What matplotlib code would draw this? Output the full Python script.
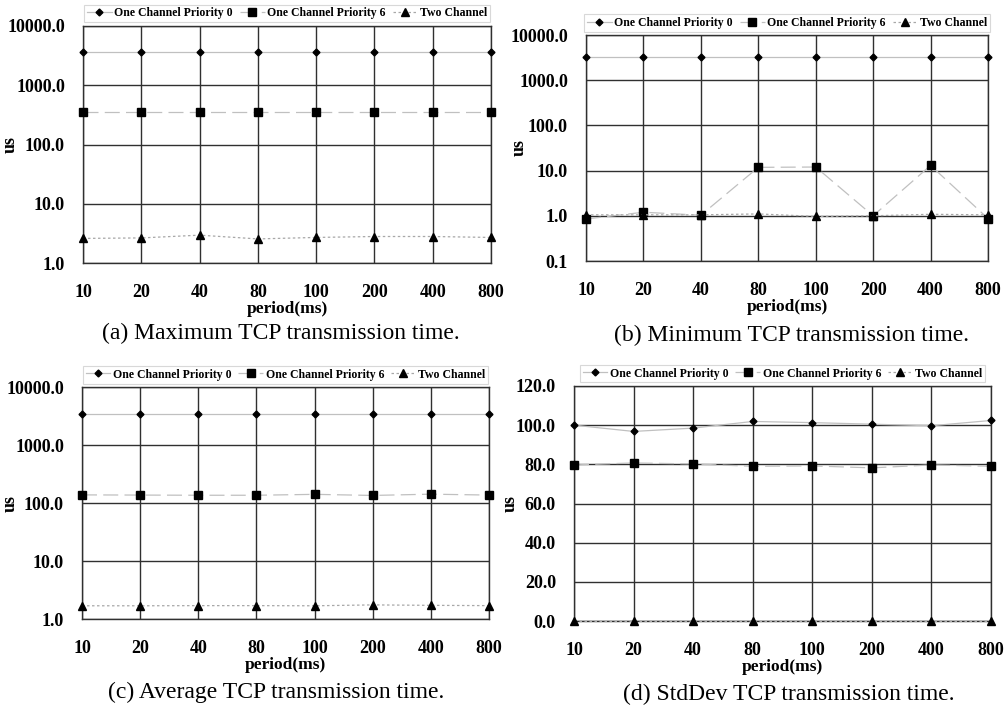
import numpy as np
import matplotlib
matplotlib.use("Agg")
import matplotlib.pyplot as plt
from matplotlib.ticker import FixedLocator, FixedFormatter

periods = ["10", "20", "40", "80", "100", "200", "400", "800"]
series_names = ["One Channel Priority 0", "One Channel Priority 6", "Two Channel"]

max_p0 = [3670, 3670, 3670, 3670, 3670, 3670, 3670, 3670]
max_p6 = [350, 350, 350, 350, 350, 350, 350, 350]
max_two = [2.6, 2.65, 2.95, 2.55, 2.7, 2.8, 2.8, 2.7]

min_p0 = [3250, 3250, 3250, 3250, 3250, 3250, 3250, 3250]
min_p6 = [0.85, 1.2, 1.03, 11.8, 12.0, 1.0, 13.0, 0.87]
min_two = [1.05, 1.05, 1.05, 1.1, 0.97, 1.0, 1.08, 1.05]

avg_p0 = [3490, 3490, 3490, 3490, 3490, 3490, 3490, 3490]
avg_p6 = [138, 137, 136, 136, 141, 135, 142, 137]
avg_two = [1.69, 1.69, 1.70, 1.70, 1.69, 1.75, 1.72, 1.70]

std_p0 = [100.0, 96.8, 98.5, 101.9, 101.3, 100.5, 99.7, 102.4]
std_p6 = [79.7, 80.7, 80.2, 79.0, 79.2, 78.2, 79.7, 79.0]
std_two = [0.2, 0.2, 0.2, 0.2, 0.2, 0.2, 0.2, 0.2]

log_ticks_a = [1, 10, 100, 1000, 10000]
log_ticks_b = [0.1, 1, 10, 100, 1000, 10000]
lin_ticks_d = [0, 20, 40, 60, 80, 100, 120]

captions = ["(a) Maximum TCP transmission time.",
            "(b) Minimum TCP transmission time.",
            "(c) Average TCP transmission time.",
            "(d) StdDev TCP transmission time."]

W, H = 1005, 708
fig = plt.figure(figsize=(W / 100, H / 100), dpi=100)
serif = ["Liberation Serif", "DejaVu Serif"]

def frac(l, r, t, b):
    return [l / W, 1 - b / H, (r - l) / W, (b - t) / H]

axes_px = [(83, 491, 26, 263), (586, 988, 35, 261), (82, 489, 387, 619), (574, 991, 386, 621)]
caption_px = [(281, 333), (791, 335), (276, 692), (789, 694)]
ylabel_x = [-0.157, -0.144, -0.155, -0.132]

panels = [
    (max_p0, max_p6, max_two, "log", log_ticks_a),
    (min_p0, min_p6, min_two, "log", log_ticks_b),
    (avg_p0, avg_p6, avg_two, "log", log_ticks_a),
    (std_p0, std_p6, std_two, "linear", lin_ticks_d),
]

styles = [
    dict(linestyle="-", marker="D", ms=3.5, color="#c0c0c0"),
    dict(linestyle=(0, (12, 5)), marker="s", ms=6, color="#c0c0c0"),
    dict(linestyle=(0, (2, 2)), marker="^", ms=5.5, color="#a8a8a8"),
]

x = np.arange(len(periods))
for i, (p0, p6, two, scale, ticks) in enumerate(panels):
    ax = fig.add_axes(frac(*axes_px[i]))
    handles = []
    for vals, st, name in zip((p0, p6, two), styles, series_names):
        h, = ax.plot(x, vals, linestyle=st["linestyle"], color=st["color"], lw=0.9,
                     marker=st["marker"], ms=st["ms"], mfc="black", mec="black",
                     clip_on=False, zorder=3, label=name)
        handles.append(h)
    ax.set_yscale(scale)
    ax.set_ylim(ticks[0], ticks[-1])
    ax.set_xlim(0, len(periods) - 1)
    ax.yaxis.set_major_locator(FixedLocator(ticks))
    ax.yaxis.set_major_formatter(FixedFormatter(["%.1f" % t for t in ticks]))
    ax.yaxis.set_minor_locator(FixedLocator([]))
    ax.set_xticks(x)
    ax.set_xticklabels(periods)
    ax.tick_params(axis="both", length=0, labelsize=13)
    ax.tick_params(axis="x", pad=15)
    ax.tick_params(axis="y", pad=13)
    for lab in ax.get_xticklabels() + ax.get_yticklabels():
        lab.set_fontfamily(serif)
        lab.set_fontweight("bold")
    ax.grid(True, color="#303030", lw=1.0)
    ax.set_axisbelow(True)
    for s in ax.spines.values():
        s.set_color("#303030")
        s.set_linewidth(1.0)
    ax.set_xlabel("period(ms)", fontfamily=serif, fontweight="bold", fontsize=12.5, labelpad=0)
    ax.set_ylabel("us", fontfamily=serif, fontweight="bold", fontsize=13)
    ax.yaxis.set_label_coords(ylabel_x[i], 0.5)
    leg = ax.legend(handles=handles, ncol=3, loc="lower center",
                    bbox_to_anchor=(0.5, 1.015),
                    prop=dict(family=serif, weight="bold", size=8.5),
                    frameon=True, fancybox=False, edgecolor="#cfcfcf",
                    handlelength=2.1, handletextpad=0.2, columnspacing=0.6,
                    borderpad=0.25, borderaxespad=0.0)
    leg.get_frame().set_linewidth(0.8)
    cx, cy = caption_px[i]
    fig.text(cx / W, 1 - cy / H, captions[i], ha="center", va="center",
             fontfamily=serif, fontsize=17)

fig.savefig("out.png", dpi=100, facecolor="white")
